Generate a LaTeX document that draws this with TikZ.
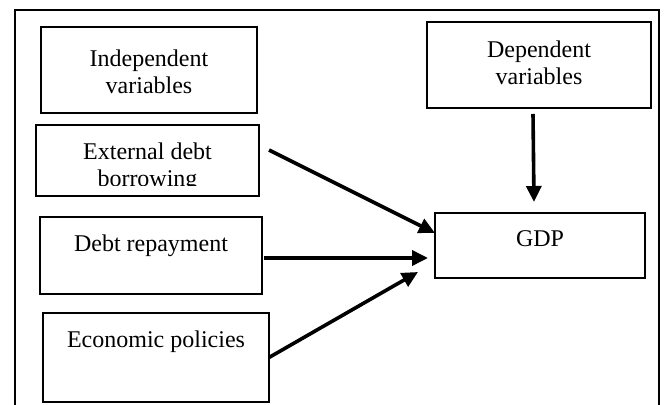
\documentclass[tikz,border=0pt]{standalone}
\usepackage{fontspec}
\setmainfont{Liberation Serif}
\usetikzlibrary{arrows.meta}

\begin{document}
\begin{tikzpicture}[x=0.5pt, y=-0.5pt, font=\fontsize{12}{13.5}\selectfont,
  box/.style={draw, line width=1pt, align=center, inner sep=0pt, outer sep=0pt},
  arr/.style={line width=1.8pt, -{Triangle[length=8pt,width=7.5pt]}}]
\useasboundingbox (0,0) rectangle (668,405);
\draw[line width=0.6pt] (15,405) |- (659,10) -- (659,405);
% left column
\node[box, minimum width=108pt, minimum height=43pt, text height=23.5pt, text depth=0pt] (indep) at (149,70) {Independent\\variables};
\begin{scope}
\clip (30,120) rectangle (265,185.5);
\node[box, draw=none, minimum width=111.5pt, minimum height=35.5pt, text height=29pt] (ext) at (147.5,160.5) {External debt\\borrowing};
\end{scope}
\draw[line width=1pt] (ext.south west) rectangle (ext.north east);
\node[box, minimum width=111pt, minimum height=38.5pt, text depth=12pt] (debt) at (151,255.5) {Debt repayment};
\node[box, minimum width=113pt, minimum height=44.5pt, text depth=18pt] (policy) at (156,357.5) {Economic policies};
% right column
\node[box, minimum width=112pt, minimum height=43pt, text depth=2.7pt] (dep) at (539,65) {Dependent\\variables};
\node[box, minimum width=105pt, minimum height=32.5pt, text depth=6.5pt] (gdp) at (540,245.5) {GDP};
\draw[arr] ([xshift=5pt,yshift=5.25pt]ext.east) -- ([yshift=6.25pt]gdp.west);
\draw[arr] ([xshift=1pt,yshift=-1.25pt]debt.east) -- ([xshift=-3.5pt,yshift=-6.25pt]gdp.west);
\draw[arr] (policy.east) -- ([xshift=-8.5pt,yshift=3pt]gdp.south west);
\draw[arr] ([xshift=-3pt,yshift=-3pt]dep.south) -- ([xshift=-3pt,yshift=5.5pt]gdp.north);
\end{tikzpicture}
\end{document}
